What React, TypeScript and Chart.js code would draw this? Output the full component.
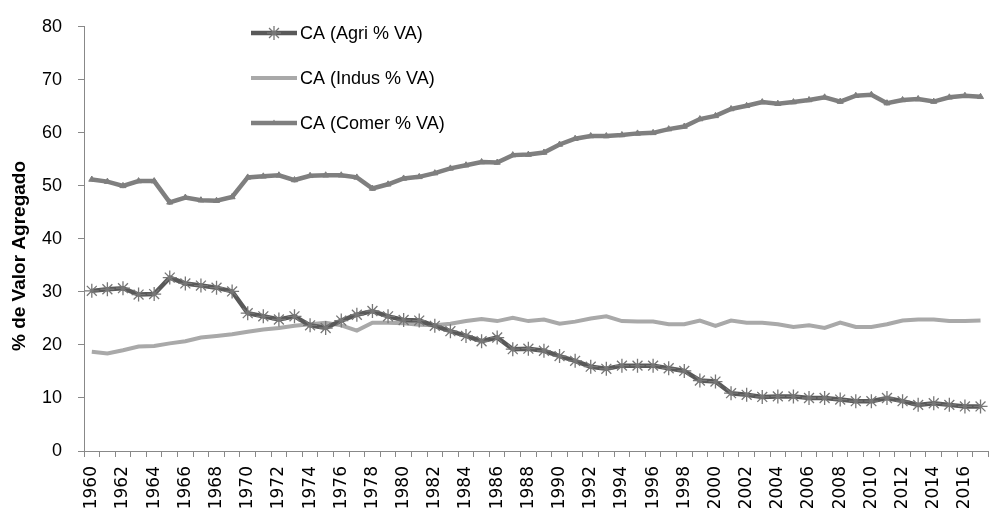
import React, { useEffect, useRef } from "react";
import { Chart, registerables } from "chart.js";

Chart.register(...registerables);

const years: string[] = [
  "1960","1961","1962","1963","1964","1965","1966","1967","1968","1969",
  "1970","1971","1972","1973","1974","1975","1976","1977","1978","1979",
  "1980","1981","1982","1983","1984","1985","1986","1987","1988","1989",
  "1990","1991","1992","1993","1994","1995","1996","1997","1998","1999",
  "2000","2001","2002","2003","2004","2005","2006","2007","2008","2009",
  "2010","2011","2012","2013","2014","2015","2016","2017",
];

const agri: number[] = [
  30.2, 30.5, 30.7, 29.5, 29.6, 32.7, 31.6, 31.2, 30.8, 30.1,
  26.0, 25.4, 24.8, 25.4, 23.7, 23.2, 24.6, 25.7, 26.4, 25.4,
  24.7, 24.6, 23.6, 22.6, 21.7, 20.7, 21.4, 19.2, 19.3, 18.9,
  17.9, 17.0, 15.9, 15.5, 16.1, 16.1, 16.1, 15.6, 15.1, 13.3,
  13.1, 10.9, 10.6, 10.2, 10.3, 10.3, 10.0, 10.0, 9.7, 9.4,
  9.4, 10.0, 9.4, 8.7, 9.0, 8.7, 8.4, 8.4,
];

const indus: number[] = [
  18.7, 18.4, 19.0, 19.7, 19.8, 20.3, 20.7, 21.4, 21.7, 22.0,
  22.5, 22.9, 23.2, 23.6, 23.9, 24.2, 23.7, 22.7, 24.2, 24.2,
  24.1, 23.8, 23.7, 24.0, 24.5, 24.9, 24.5, 25.1, 24.5, 24.8,
  24.0, 24.4, 25.0, 25.4, 24.5, 24.4, 24.4, 23.9, 23.9, 24.6,
  23.6, 24.6, 24.2, 24.2, 23.9, 23.4, 23.7, 23.2, 24.2, 23.4,
  23.4, 23.9, 24.6, 24.8, 24.8, 24.5, 24.5, 24.6,
];

const comer: number[] = [
  51.2, 50.8, 50.0, 50.9, 50.9, 46.9, 47.8, 47.3, 47.2, 47.9,
  51.6, 51.8, 52.0, 51.1, 51.9, 52.0, 52.0, 51.6, 49.5, 50.3,
  51.4, 51.7, 52.4, 53.3, 53.9, 54.5, 54.4, 55.8, 55.9, 56.3,
  57.8, 58.9, 59.4, 59.4, 59.6, 59.9, 60.0, 60.7, 61.2, 62.6,
  63.2, 64.5, 65.1, 65.8, 65.5, 65.8, 66.2, 66.7, 65.9, 67.0,
  67.2, 65.6, 66.2, 66.4, 65.9, 66.7, 67.0, 66.8,
];

const seriesLabels: string[] = ["CA (Agri % VA)", "CA (Indus % VA)", "CA (Comer % VA)"];
const yTitle = "% de Valor Agregado";

const SANS = '"Liberation Sans", Arial, sans-serif';

const insideLegend = {
  id: "insideLegend",
  afterDraw(chart: any) {
    const ctx = chart.ctx as CanvasRenderingContext2D;
    const x0 = 251, x1 = 297, mid = 274, yStart = 33, dy = 45;
    chart.data.datasets.forEach((ds: any, i: number) => {
      const y = yStart + i * dy;
      ctx.save();
      ctx.strokeStyle = ds.borderColor;
      ctx.lineWidth = ds.borderWidth;
      ctx.lineCap = "butt";
      ctx.beginPath();
      ctx.moveTo(x0, y);
      ctx.lineTo(x1, y);
      ctx.stroke();
      if (ds.pointRadius > 0) {
        const r = ds.pointRadius;
        if (ds.pointStyle === "star") {
          ctx.strokeStyle = ds.pointBorderColor;
          ctx.lineWidth = ds.pointBorderWidth;
          ctx.beginPath();
          ctx.moveTo(mid - r, y); ctx.lineTo(mid + r, y);
          ctx.moveTo(mid, y - r); ctx.lineTo(mid, y + r);
          const d = r * Math.SQRT1_2;
          ctx.moveTo(mid - d, y - d); ctx.lineTo(mid + d, y + d);
          ctx.moveTo(mid - d, y + d); ctx.lineTo(mid + d, y - d);
          ctx.stroke();
        } else if (ds.pointStyle === "triangle") {
          ctx.fillStyle = ds.pointBackgroundColor;
          ctx.beginPath();
          ctx.moveTo(mid, y - r);
          ctx.lineTo(mid + r * 0.9, y + r * 0.6);
          ctx.lineTo(mid - r * 0.9, y + r * 0.6);
          ctx.closePath();
          ctx.fill();
        }
      }
      ctx.fillStyle = "#000";
      ctx.font = `18px ${SANS}`;
      ctx.textBaseline = "middle";
      ctx.textAlign = "left";
      ctx.fillText(ds.label, 300, y + 1);
      ctx.restore();
    });
  },
};

const yTitlePlugin = {
  id: "yTitlePlugin",
  afterDraw(chart: any) {
    const ctx = chart.ctx as CanvasRenderingContext2D;
    ctx.save();
    ctx.translate(20, 256);
    ctx.rotate(-Math.PI / 2);
    ctx.fillStyle = "#000";
    ctx.font = `bold 19px ${SANS}`;
    ctx.textAlign = "center";
    ctx.textBaseline = "middle";
    ctx.fillText(yTitle, 0, 0);
    ctx.restore();
  },
};

export default function App() {
  const canvasRef = useRef<HTMLCanvasElement | null>(null);

  useEffect(() => {
    if (!canvasRef.current) return;
    const chart = new Chart(canvasRef.current, {
      type: "line",
      data: {
        labels: years,
        datasets: [
          {
            label: seriesLabels[0],
            data: agri,
            borderColor: "#595959",
            borderWidth: 4.5,
            pointStyle: "star",
            pointRadius: 7,
            pointBorderColor: "#777777",
            pointBorderWidth: 1.3,
            pointBackgroundColor: "#777777",
            tension: 0,
          },
          {
            label: seriesLabels[1],
            data: indus,
            borderColor: "#A9A9A9",
            borderWidth: 4,
            pointRadius: 0,
            tension: 0,
          },
          {
            label: seriesLabels[2],
            data: comer,
            borderColor: "#7F7F7F",
            borderWidth: 4.5,
            pointStyle: "triangle",
            pointRadius: 3.5,
            pointBorderColor: "#7F7F7F",
            pointBorderWidth: 1,
            pointBackgroundColor: "#7F7F7F",
            tension: 0,
          },
        ],
      },
      options: {
        responsive: false,
        animation: false,
        devicePixelRatio: 1,
        layout: { padding: { top: 23, right: 8, left: 0, bottom: 0 } },
        plugins: {
          legend: { display: false },
          tooltip: { enabled: false },
        },
        scales: {
          x: {
            type: "category",
            offset: true,
            grid: {
              display: true,
              offset: true,
              drawOnChartArea: false,
              drawTicks: true,
              tickLength: 6,
              color: "#888888",
            },
            border: { display: true, color: "#888888", width: 1 },
            ticks: {
              autoSkip: false,
              minRotation: 90,
              maxRotation: 90,
              padding: 9,
              color: "#000",
              font: { family: '"DejaVu Sans", sans-serif', size: 17 },
              callback: function (_v: any, index: number) {
                return index % 2 === 0 ? years[index] : "";
              },
            },
            afterFit(scale: any) {
              scale.height = 59;
            },
          },
          y: {
            min: 0,
            max: 80,
            grid: {
              display: true,
              drawOnChartArea: false,
              drawTicks: true,
              tickLength: 6,
              color: "#888888",
            },
            border: { display: true, color: "#888888", width: 1 },
            ticks: {
              stepSize: 10,
              padding: 16,
              color: "#000",
              font: { family: SANS, size: 18 },
            },
            afterFit(scale: any) {
              scale.width = 84;
            },
          },
        },
      },
      plugins: [insideLegend, yTitlePlugin],
    } as any);
    return () => chart.destroy();
  }, []);

  return (
    <div
      style={{
        position: "absolute",
        left: 0,
        top: 0,
        width: 990,
        height: 510,
        overflow: "hidden",
        background: "#fff",
      }}
    >
      <canvas ref={canvasRef} width={1010} height={510} style={{ display: "block" }} />
    </div>
  );
}
